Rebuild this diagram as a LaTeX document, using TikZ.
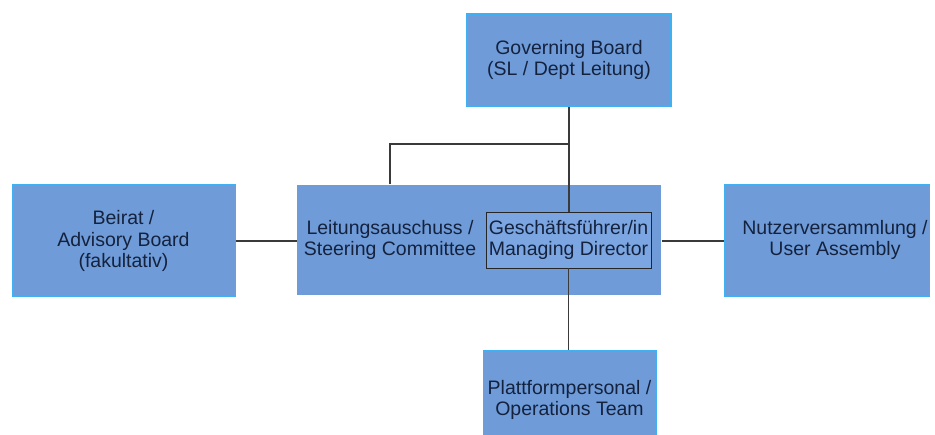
\documentclass[tikz,border=0pt]{standalone}
\usepackage{fontspec}
\setmainfont{Liberation Sans}
\usetikzlibrary{positioning}

\definecolor{boxfill}{HTML}{6F9CD9}
\definecolor{mdfill}{HTML}{7CA6E1}
\definecolor{boxline}{HTML}{3FB0F2}
\definecolor{txtcol}{HTML}{14223E}
\definecolor{linkcol}{HTML}{3A3A3A}

\tikzset{
  unit/.style={fill=boxfill, draw=boxline, line width=1pt, align=center,
    text=txtcol, font=\fontsize{19.5}{21.5}\selectfont},
  director/.style={fill=mdfill, draw=black!85, line width=0.9pt, align=center,
    text=txtcol, font=\fontsize{19.5}{21.5}\selectfont, inner sep=1pt},
  caption/.style={align=center, text=txtcol, font=\fontsize{19.5}{21.5}\selectfont},
  link/.style={draw=linkcol, line width=1.1pt}
}

\begin{document}
\begin{tikzpicture}[x=1pt, y=-1pt]
        \useasboundingbox (0,0) rectangle (935,435);
        % Define the nodes
        \node[unit, line width=2pt, minimum width=204pt, minimum height=92pt] (gov) at (569,60) {Governing Board\\(SL / Dept Leitung)};
        \node[unit, draw=none, minimum width=364pt, minimum height=110pt] (steer) at (479,240) {};
        \node[caption] (steerlbl) at (390,240) {Leitungsauschuss /\\Steering Committee};
        \node[director, minimum width=165pt, minimum height=56pt] (md) at (568.5,240) {Geschäftsführer/in\\Managing Director};
        \node[unit, minimum width=223pt, minimum height=112pt] (beirat) at (123.5,241) {Beirat /\\Advisory Board\\(fakultativ)};
        \node[unit, minimum width=205pt, minimum height=112pt] (nutzer) at (827,241) {};
        \node[caption] (nutzerlbl) at (835,240) {Nutzerversammlung /\\User Assembly};
        \node[unit, minimum width=173pt, minimum height=98pt] (platt) at (569.5,400) {Plattformpersonal /\\Operations Team};
        \coordinate (jn) at (569,144);
        % Define the links
        \draw[link] (gov.south) -- (gov.south |- md.north);
        \draw[link] (steerlbl |- steer.north) |- (jn);
        \draw[link] (beirat.east) -- (beirat.east -| steer.west);
        \draw[link] (steer.east |- nutzer.west) -- (nutzer.west);
        \draw[link] (md.south) -- (md.south |- platt.north);
\end{tikzpicture}
\end{document}
